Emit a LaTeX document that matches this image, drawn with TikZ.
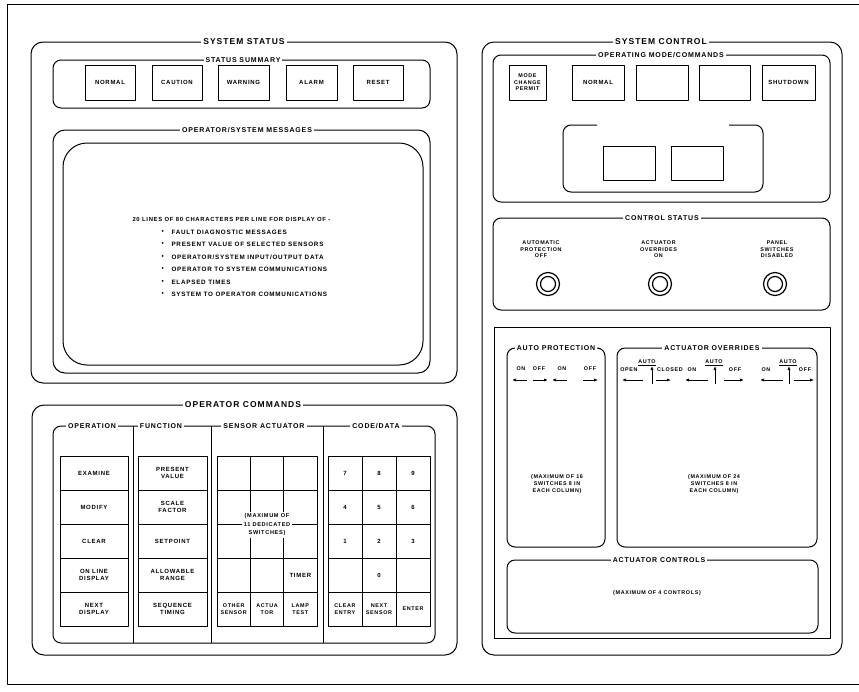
\documentclass[tikz,border=0pt]{standalone}
\usepackage{fontspec}
\setmainfont{Liberation Sans}[LetterSpace=12]
\usetikzlibrary{arrows.meta}
\newcommand{\ttlfont}{\fontsize{8.5}{9}\selectfont\bfseries}
\newcommand{\subfont}{\fontsize{7}{8}\selectfont\bfseries}
\newcommand{\btnfont}{\fontsize{6}{7}\selectfont\bfseries}
\newcommand{\smfont}{\fontsize{5.4}{6.6}\selectfont\bfseries}
\newcommand{\msgfont}{\fontsize{6.3}{7}\selectfont\bfseries}
\begin{document}
\begin{tikzpicture}[x=1pt,y=-1pt,line width=1pt,line join=round,
  panel/.style={draw,rounded corners=12pt},
  box/.style={draw,rounded corners=8pt},
  ttl/.style={fill=white,inner sep=2pt,font=\ttlfont},
  sub/.style={fill=white,inner sep=2pt,font=\subfont},
  btn/.style={draw,align=center,font=\btnfont,inner sep=0pt},
  cell/.style={btn,line width=0.9pt,minimum height=34pt},
  lbl/.style={align=center,font=\btnfont,inner sep=0pt},
  sml/.style={align=center,font=\smfont,inner sep=0pt},
  msg/.style={anchor=west,font=\msgfont,inner sep=0pt},
  arr/.style={-{Latex[length=4pt,width=3.2pt]},line width=0.8pt}]
\useasboundingbox (0,0) rectangle (859,691);
% outer frame
\draw (859,4) -- (7,4) -- (7,684) -- (859,684);

% ================= SYSTEM STATUS =================
\draw[panel] (31,42) rectangle (457,383);
\node[ttl] (tss) at (244,42) {SYSTEM STATUS};
\draw[box] (53,60) rectangle (430,108);
\node[sub] (tsum) at (243,60) {STATUS SUMMARY};
\node[btn,minimum width=50pt,minimum height=35pt] (bnorm) at (110,82.5) {NORMAL};
\node[btn,minimum width=50pt,minimum height=35pt] (bcaut) at (177,82.5) {CAUTION};
\node[btn,minimum width=51pt,minimum height=35pt] (bwarn) at (243.5,82.5) {WARNING};
\node[btn,minimum width=51pt,minimum height=35pt] (balarm) at (311.5,82.5) {ALARM};
\node[btn,minimum width=50pt,minimum height=35pt] (breset) at (378,82.5) {RESET};

\draw[panel] (53,130) rectangle (430,373);
\node[sub] (tmsg) at (247,130) {OPERATOR/SYSTEM MESSAGES};
\draw[rounded corners=24pt] (63,143) rectangle (423,365);
\node[msg,font=\fontsize{5.9}{7}\selectfont\bfseries] (mhead) at (132,219) {20 LINES OF 80 CHARACTERS PER LINE FOR DISPLAY OF -};
\node[msg] (mb1) at (161,232) {\textbullet};
\node[msg] (mb2) at (161,244.5) {\textbullet};
\node[msg] (mb3) at (161,257) {\textbullet};
\node[msg] (mb4) at (161,269.5) {\textbullet};
\node[msg] (mb5) at (161,282) {\textbullet};
\node[msg] (mb6) at (161,294.5) {\textbullet};
\node[msg] (mi1) at (171,232) {FAULT DIAGNOSTIC MESSAGES};
\node[msg] (mi2) at (171,244.5) {PRESENT VALUE OF SELECTED SENSORS};
\node[msg] (mi3) at (171,257) {OPERATOR/SYSTEM INPUT/OUTPUT DATA};
\node[msg] (mi4) at (171,269.5) {OPERATOR TO SYSTEM COMMUNICATIONS};
\node[msg] (mi5) at (171,282) {ELAPSED TIMES};
\node[msg] (mi6) at (171,294.5) {SYSTEM TO OPERATOR COMMUNICATIONS};

% ================= OPERATOR COMMANDS =================
\draw[panel] (32,405) rectangle (457,655);
\node[ttl] (toc) at (243,405) {OPERATOR COMMANDS};
\draw[box] (53,426) rectangle (435,643);
\draw (133,426) -- (133,643);
\draw (211,426) -- (211,643);
\draw (323,426) -- (323,643);
\node[sub] (hop) at (92,426) {OPERATION};
\node[sub] (hfn) at (161,426) {FUNCTION};
\node[sub] (hsa) at (264,426) {SENSOR ACTUATOR};
\node[sub] (hcd) at (376,426) {CODE/DATA};

% operation column
\node[cell,minimum width=68pt] (op1) at (94,473) {EXAMINE};
\node[cell,minimum width=68pt] (op2) at (94,507) {MODIFY};
\node[cell,minimum width=68pt] (op3) at (94,541) {CLEAR};
\node[cell,minimum width=68pt] (op4) at (94,575) {ON LINE\\DISPLAY};
\node[cell,minimum width=68pt] (op5) at (94,609) {NEXT\\DISPLAY};
% function column
\node[cell,minimum width=69pt] (fn1) at (172.5,473) {PRESENT\\VALUE};
\node[cell,minimum width=69pt] (fn2) at (172.5,507) {SCALE\\FACTOR};
\node[cell,minimum width=69pt] (fn3) at (172.5,541) {SETPOINT};
\node[cell,minimum width=69pt] (fn4) at (172.5,575) {ALLOWABLE\\RANGE};
\node[cell,minimum width=69pt] (fn5) at (172.5,609) {SEQUENCE\\TIMING};
% sensor actuator grid
\foreach \r/\yy in {1/473,2/507,3/541,4/575}{
  \node[cell,minimum width=33.33pt] (sa\r a) at (233.67,\yy) {};
  \node[cell,minimum width=33.33pt] (sa\r b) at (267,\yy) {};
  \node[cell,minimum width=33.33pt] (sa\r c) at (300.33,\yy) {};
}
\node[lbl] (timer) at (300.33,575) {TIMER};
\node[cell,minimum width=33.33pt,font=\smfont] (sa5a) at (233.67,609) {OTHER\\SENSOR};
\node[cell,minimum width=33.33pt,font=\smfont] (sa5b) at (267,609) {ACTUA\\TOR};
\node[cell,minimum width=33.33pt,font=\smfont] (sa5c) at (300.33,609) {LAMP\\TEST};
\node[sml,fill=white,inner sep=1.5pt,font=\fontsize{5.6}{8.5}\selectfont\bfseries] (maxsw) at (267,525) {(MAXIMUM OF\\11 DEDICATED\\SWITCHES)};
% code/data grid
\node[cell,minimum width=34pt] (cd7) at (345,473) {7};
\node[cell,minimum width=34pt] (cd8) at (379,473) {8};
\node[cell,minimum width=34pt] (cd9) at (413,473) {9};
\node[cell,minimum width=34pt] (cd4) at (345,507) {4};
\node[cell,minimum width=34pt] (cd5) at (379,507) {5};
\node[cell,minimum width=34pt] (cd6) at (413,507) {6};
\node[cell,minimum width=34pt] (cd1) at (345,541) {1};
\node[cell,minimum width=34pt] (cd2) at (379,541) {2};
\node[cell,minimum width=34pt] (cd3) at (413,541) {3};
\node[cell,minimum width=34pt] (cdx) at (345,575) {};
\node[cell,minimum width=34pt] (cd0) at (379,575) {0};
\node[cell,minimum width=34pt] (cdy) at (413,575) {};
\node[cell,minimum width=34pt,font=\smfont] (cdce) at (345,609) {CLEAR\\ENTRY};
\node[cell,minimum width=34pt,font=\smfont] (cdns) at (379,609) {NEXT\\SENSOR};
\node[cell,minimum width=34pt,font=\smfont] (cden) at (413,609) {ENTER};

% ================= SYSTEM CONTROL =================
\draw[panel] (482,42) rectangle (842,655);
\node[ttl] (tsc) at (661,42) {SYSTEM CONTROL};
\draw[box] (493,55) rectangle (830,202);
\node[sub] (tom) at (661,55) {OPERATING MODE/COMMANDS};
\node[btn,minimum width=37pt,minimum height=35pt,font=\smfont] (bmode) at (527.5,82.5) {MODE\\CHANGE\\PERMIT};
\node[btn,minimum width=52pt,minimum height=35pt] (bnorm2) at (598,82.5) {NORMAL};
\node[btn,minimum width=52pt,minimum height=35pt] (bbl1) at (662,82.5) {};
\node[btn,minimum width=51pt,minimum height=35pt] (bbl2) at (724.5,82.5) {};
\node[btn,minimum width=53pt,minimum height=35pt] (bshut) at (788.5,82.5) {SHUTDOWN};
\draw[rounded corners=8pt] (597,125) -- (563,125) -- (563,192) -- (763,192) -- (763,125) -- (729,125);
\node[btn,minimum width=52pt,minimum height=34pt] (sq1) at (629,163) {};
\node[btn,minimum width=52pt,minimum height=34pt] (sq2) at (697,163) {};

\draw[box] (493,218) rectangle (830,310);
\node[sub] (tcs) at (662,218) {CONTROL STATUS};
\node[sml] (ls1) at (541,249.5) {AUTOMATIC\\PROTECTION\\OFF};
\node[sml] (ls2) at (658.5,249.5) {ACTUATOR\\OVERRIDES\\ON};
\node[sml] (ls3) at (777,249.5) {PANEL\\SWITCHES\\DISABLED};
\foreach \cx in {548,660,775}{
  \draw[line width=1.2pt] (\cx,284) circle[radius=11.5pt];
  \draw[line width=1.2pt] (\cx,284) circle[radius=7.5pt];
}

\draw (494,327) rectangle (830,638);
\draw[box] (507,348) rectangle (605,547);
\node[sub] (tap) at (556,348) {AUTO PROTECTION};
\draw[box] (617,348) rectangle (817,547);
\node[sub] (tao) at (712,348) {ACTUATOR OVERRIDES};
\draw[box] (507,560) rectangle (818,633);
\node[sub] (tac) at (659,560) {ACTUATOR CONTROLS};

% auto protection switches
\node[sml] (apon1) at (521,369) {ON};
\node[sml] (apof1) at (539,369) {OFF};
\node[sml] (apon2) at (562,369) {ON};
\node[sml] (apof2) at (590,369) {OFF};
\draw[arr] (527,380) -- (512,380);
\draw[arr] (533,380) -- (548,380);
\draw[arr] (567,380) -- (552,380);
\draw[arr] (583,380) -- (598,380);

% actuator overrides switches
\node[sml] (au1) at (647,363) {\underline{AUTO}};
\node[sml] (aopen) at (629,370) {OPEN};
\node[sml] (aclos) at (670,370) {CLOSED};
\draw[arr] (652,384) -- (652,366);
\draw[arr] (643,380) -- (622,380);
\draw[arr] (656,380) -- (671,380);

\node[sml] (au2) at (714,363) {\underline{AUTO}};
\node[sml] (aon2) at (692,370) {ON};
\node[sml] (aoff2) at (735,370) {OFF};
\draw[arr] (715,384) -- (715,366);
\draw[arr] (708,380) -- (685,380);
\draw[arr] (724,380) -- (744,380);

\node[sml] (au3) at (788,363) {\underline{AUTO}};
\node[sml] (aon3) at (766,370) {ON};
\node[sml] (aoff3) at (805,370) {OFF};
\draw[arr] (789,384) -- (789,366);
\draw[arr] (783,380) -- (760,380);
\draw[arr] (794,380) -- (814,380);

\node[sml] (apmax) at (557,484) {(MAXIMUM OF 16\\SWITCHES 8 IN\\EACH COLUMN)};
\node[sml] (aomax) at (714,484) {(MAXIMUM OF 24\\SWITCHES 8 IN\\EACH COLUMN)};
\node[sml] (acmax) at (657,593) {(MAXIMUM OF 4 CONTROLS)};
\end{tikzpicture}
\end{document}
